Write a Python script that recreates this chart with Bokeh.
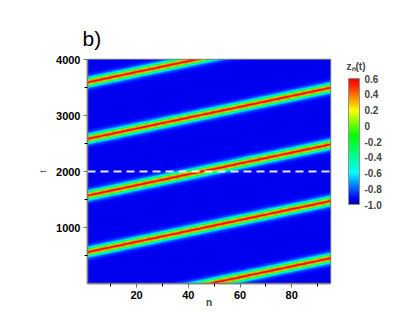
import numpy as np
from bokeh.plotting import figure
from bokeh.models import (LinearColorMapper, ColorBar, FixedTicker, Span, AllLabels)
from bokeh.embed import file_html
from bokeh.resources import INLINE

# ---- data ----
n_range = [1, 95]            # lattice index shown
t_range = [0, 4000]          # time shown
band_t0 = [-463, 559, 1571, 2584, 3595]   # t where each band crosses n = 1
band_slope = 9.7             # t per site
band_width = 60              # t half-width of a band
z_peak = 0.6
z_background = -0.93
x_ticks = [20, 40, 60, 80]
x_minor = [10, 30, 50, 70, 90]
y_ticks = [1000, 2000, 3000, 4000]
y_minor = [500, 1500, 2500, 3500]
cb_ticks = [0.6, 0.4, 0.2, 0.0, -0.2, -0.4, -0.6, -0.8, -1.0]
cb_labels = ["0.6", "0.4", "0.2", "0", "-0.2", "-0.4", "-0.6", "-0.8", "-1.0"]
cb_title = "z\u2099(t)"
cut_t = 2000

# ---- field built from the band parameters ----
nn = np.linspace(n_range[0], n_range[1], 377)
tt = np.linspace(t_range[0], t_range[1], 801)
N, T = np.meshgrid(nn, tt)
prof = np.zeros_like(N)
for t0 in band_t0:
    d = T - (t0 + band_slope * (N - n_range[0]))
    prof = np.maximum(prof, 1.0 / np.cosh(d / band_width) ** 2)
z = z_background + (z_peak - z_background) * prof

# ---- palette (jet-like, as in the colour bar) ----
stops = [(-1.0, (0, 0, 140)), (-0.92, (0, 0, 255)), (-0.6, (0, 255, 255)),
         (-0.12, (0, 255, 0)), (0.2, (255, 255, 0)), (0.5, (255, 40, 0)),
         (0.6, (240, 0, 0))]
vals = np.linspace(-1.0, 0.6, 256)
sv = [s[0] for s in stops]
pal = []
for v in vals:
    rgb = [int(round(np.interp(v, sv, [s[1][k] for s in stops]))) for k in range(3)]
    pal.append("#%02x%02x%02x" % tuple(rgb))
mapper = LinearColorMapper(palette=pal, low=-1.0, high=0.6)

p = figure(frame_width=243, frame_height=224, width=399, height=316,
           x_range=(n_range[0], n_range[1]), y_range=(t_range[0], t_range[1]),
           output_backend="svg", toolbar_location=None,
           min_border_left=87, min_border_right=69, min_border_top=59, min_border_bottom=33)
p.image(image=[z], x=n_range[0], y=t_range[0], dw=n_range[1] - n_range[0],
        dh=t_range[1] - t_range[0], color_mapper=mapper)

p.add_layout(Span(location=cut_t, dimension="width", line_color="white",
                  line_width=2, line_dash="8 5", line_alpha=0.9))

p.title.text = "b)"
p.title.text_font = "Liberation Sans"
p.title.text_font_size = "21px"
p.title.text_font_style = "normal"
p.title.text_color = "black"
p.title.align = "left"
p.title.offset = -5
p.title.standoff = 19

p.xgrid.visible = False
p.ygrid.visible = False
p.outline_line_color = "#808080"
p.outline_line_width = 1.5

p.xaxis.ticker = FixedTicker(ticks=x_ticks, minor_ticks=x_minor)
p.yaxis.ticker = FixedTicker(ticks=y_ticks, minor_ticks=y_minor)
for ax in (p.xaxis, p.yaxis):
    ax.major_label_text_font = "Liberation Sans"
    ax.major_label_text_font_style = "bold"
    ax.major_label_text_font_size = "11px"
    ax.major_label_text_color = "black"
    ax.axis_line_color = "#808080"
    ax.axis_line_width = 1.5
    ax.major_tick_line_color = "#707070"
    ax.minor_tick_line_color = "black"
    ax.major_tick_out = 4
    ax.major_tick_in = 0
    ax.minor_tick_out = 3
    ax.minor_tick_in = 0
    ax.major_label_standoff = 3
p.xaxis.axis_label = "n"
p.xaxis.axis_label_text_font = "Liberation Sans"
p.xaxis.axis_label_text_font_style = "bold"
p.xaxis.axis_label_text_font_size = "10px"
p.xaxis.axis_label_standoff = -5
p.yaxis.axis_label = "t"
p.yaxis.axis_label_text_font = "Liberation Sans"
p.yaxis.axis_label_text_font_style = "normal"
p.yaxis.axis_label_text_font_size = "9px"
p.yaxis.axis_label_text_color = "#444444"
p.yaxis.axis_label_standoff = 5

cb = ColorBar(color_mapper=mapper, orientation="vertical", location=(261, 79),
              width=11, height=126, padding=0, ticker=FixedTicker(ticks=cb_ticks),
              major_label_overrides={v: s for v, s in zip(cb_ticks, cb_labels)},
              major_label_policy=AllLabels(),
              major_label_text_font="Liberation Sans", major_label_text_font_style="bold",
              major_label_text_font_size="10px", label_standoff=5,
              major_tick_line_color=None, bar_line_color="#909090",
              background_fill_alpha=0, border_line_color=None)
p.add_layout(cb, "center")

# colour-bar title: the single label of a second, invisible colour bar
title_mapper = LinearColorMapper(palette=["#ffffff"], low=0, high=1)
cb_t = ColorBar(color_mapper=title_mapper, orientation="vertical", location=(258, 211),
                width=1, height=12, padding=0, scale_alpha=0,
                ticker=FixedTicker(ticks=[0.5]), major_label_overrides={0.5: cb_title},
                major_label_policy=AllLabels(),
                major_label_text_font="Liberation Sans", major_label_text_font_style="bold",
                major_label_text_font_size="10px", label_standoff=0,
                major_tick_line_color=None, minor_tick_line_color=None,
                bar_line_color=None, background_fill_alpha=0, border_line_color=None)
p.add_layout(cb_t, "center")

open("out.html", "w").write(file_html(p, INLINE))
